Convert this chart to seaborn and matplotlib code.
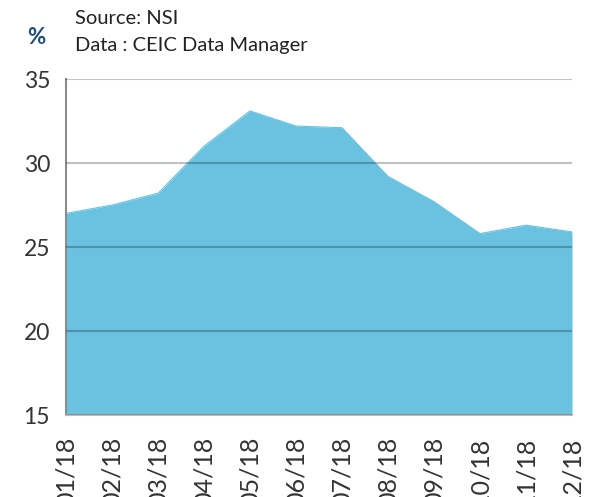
import numpy as np
import pandas as pd
import matplotlib
matplotlib.use("Agg")
import matplotlib.pyplot as plt
import seaborn as sns

# monthly values (%)
months = ["01/18", "02/18", "03/18", "04/18", "05/18", "06/18",
          "07/18", "08/18", "09/18", "10/18", "11/18", "12/18"]
values = [27.0, 27.5, 28.2, 31.0, 33.1, 32.2, 32.1, 29.2, 27.7, 25.8, 26.3, 25.9]
yticks = [15, 20, 25, 30, 35]

sns.set_style("white")
plt.rcParams['font.family'] = ['Lato', 'DejaVu Sans']

df = pd.DataFrame({"month": months, "value": values})
df["pos"] = np.arange(len(df))

fig = plt.figure(figsize=(5.95, 4.97), dpi=100)
ax = fig.add_axes([66/595, 1 - 415/497, (572 - 66)/595, (415 - 79)/497])

ax.fill_between(df["pos"], 15, df["value"], color="#69c2e0", lw=0, zorder=1)
sns.lineplot(data=df, x="pos", y="value", ax=ax, color="#69c2e0", lw=0.8, zorder=2)

ax.set_xlim(0, len(df) - 1)
ax.set_ylim(15, 35)
ax.set_yticks(yticks)
ax.set_yticklabels([str(t) for t in yticks], fontsize=16.5, color="#333333")
ax.set_xticks(df["pos"])
ax.set_xticklabels(df["month"], rotation=90, fontsize=18, color="#333333", va="top")

for t in yticks:
    ax.axhline(t, color="#000000", alpha=0.24, lw=1.5, zorder=3)

for s in ["top", "right"]:
    ax.spines[s].set_visible(False)
ax.spines["left"].set_color("#8c8c8c")
ax.spines["left"].set_linewidth(1.5)
ax.spines["bottom"].set_color("#bdbdbd")
ax.spines["bottom"].set_linewidth(1.5)
ax.tick_params(axis="both", which="both", length=6.5, width=1.5, color="#8c8c8c")
ax.tick_params(axis="y", pad=5)
ax.tick_params(axis="x", pad=9)
ax.set_xlabel("")
ax.set_ylabel("")

fig.text(36/595, 1 - 38/497, "%", fontsize=16, fontweight="bold", color="#1f4e79",
         ha="center", va="center")
fig.text(75/595, 1 - 19/497, "Source: NSI", fontsize=14.5, color="#222222", va="center")
fig.text(75/595, 1 - 46/497, "Data : CEIC Data Manager", fontsize=14.5, color="#222222", va="center")

fig.savefig("out.png", dpi=100)
